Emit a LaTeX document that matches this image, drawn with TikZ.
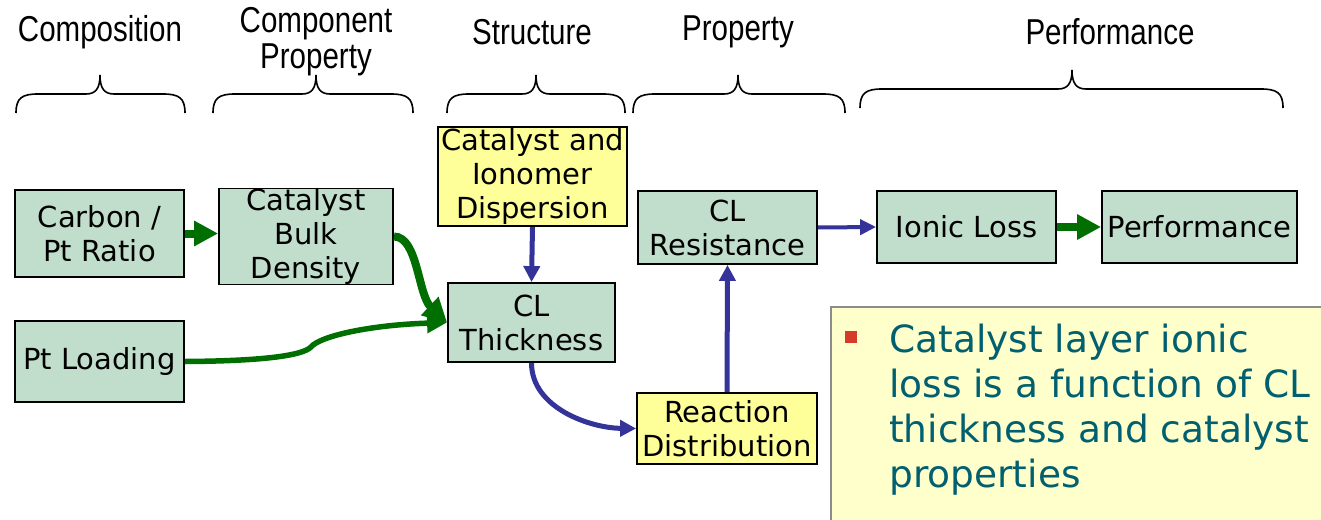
\documentclass[tikz,border=0pt]{standalone}
\usepackage{fontspec}
\setmainfont{DejaVu Sans}
\newfontfamily\hdr[FakeStretch=0.82]{Liberation Sans}
\usetikzlibrary{arrows.meta}
\definecolor{boxgreen}{RGB}{193,222,204}
\definecolor{boxyellow}{RGB}{255,255,153}
\definecolor{notefill}{RGB}{255,255,204}
\definecolor{darkgr}{RGB}{0,110,0}
\definecolor{arrblue}{RGB}{51,51,153}
\definecolor{teal}{RGB}{0,96,112}
\definecolor{bulletred}{RGB}{214,58,40}
\tikzset{
  gbox/.style={draw=black, line width=1.8pt, fill=boxgreen, inner sep=0pt, align=center,
    font=\fontsize{29}{34}\selectfont},
  ybox/.style={gbox, fill=boxyellow},
  hdrtext/.style={font=\hdr\fontsize{36}{38}\selectfont, align=center, inner sep=0pt},
  garrow/.style={draw=darkgr, line width=8pt, -{Triangle[length=24pt,width=24pt]}},
  garrowthin/.style={draw=darkgr, line width=5.5pt, -{Triangle[length=20pt,width=19pt]}},
  barrow/.style={draw=arrblue, line width=5pt, -{Triangle[length=16pt,width=16pt]}},
  bracepath/.style={draw=black, line width=1.6pt},
}
\newcommand{\mybrace}[6]{% xl xp xr ybottom yhoriz ypeak
  \draw[bracepath] (#1,#4) .. controls (#1,#5+4) and (#1+6,#5) .. (#1+22,#5)
    -- (#2-14,#5) .. controls (#2-4,#5) and (#2,#5-6) .. (#2,#6)
    .. controls (#2,#5-6) and (#2+4,#5) .. (#2+14,#5)
    -- (#3-22,#5) .. controls (#3-6,#5) and (#3,#5+4) .. (#3,#4);
}
\begin{document}
\begin{tikzpicture}[x=1pt,y=-1pt]
\useasboundingbox (0,0) rectangle (1321,519);

% headers
\node[hdrtext] (h1) at (100,32) {Composition};
\node[hdrtext] (h2) at (316,42) {Component\\[-2pt]Property};
\node[hdrtext] (h3) at (532,32) {Structure};
\node[hdrtext] (h4) at (738,32) {Property};
\node[hdrtext] (h5) at (1110,32) {Performance};

% braces
\mybrace{16}{100}{185}{113}{94}{75}
\mybrace{213}{316}{413}{113}{94}{75}
\mybrace{447}{536}{625}{113}{94}{75}
\mybrace{633}{738}{845}{113}{94}{75}
\mybrace{860}{1072}{1283}{108}{89}{70}

% boxes
\node[gbox, minimum width=169pt, minimum height=87pt] (cp) at (99.5,233.5) {Carbon /\\Pt Ratio};
\node[gbox, minimum width=174pt, minimum height=93pt] (cbd) at (306,236.5) {\raisebox{-3pt}{\parbox{174pt}{\centering Catalyst\\Bulk\\Density}}};
\node[gbox, minimum width=169pt, minimum height=81pt] (ptl) at (99.5,361.5) {Pt Loading};
\node[ybox, minimum width=189pt, minimum height=99pt] (cid) at (532.5,176.5) {\raisebox{-3pt}{\parbox{189pt}{\centering Catalyst and\\Ionomer\\Dispersion}}};
\node[gbox, minimum width=167pt, minimum height=79pt] (clt) at (531.5,322.5) {CL\\Thickness};
\node[gbox, minimum width=179pt, minimum height=73pt] (clr) at (727.5,227.5) {CL\\Resistance};
\node[ybox, minimum width=180pt, minimum height=71pt] (rd) at (727,428.5) {Reaction\\Distribution};
\node[gbox, minimum width=179pt, minimum height=72pt] (il) at (966.5,227) {Ionic Loss};
\node[gbox, minimum width=195pt, minimum height=72pt] (perf) at (1199.5,227) {Performance};

% note box
\draw[draw=gray!90, line width=1.6pt, fill=notefill] (831,307) rectangle (1330,530);
\fill[bulletred] (845,331) rectangle (857,343);
\node[anchor=north west, inner sep=0pt, text=teal, align=left,
  font=\fontsize{37.5}{45}\selectfont] (note) at (889,324)
  {Catalyst layer ionic\\loss is a function of CL\\thickness and catalyst\\properties};

% connectors
\draw[garrow] (cp.east) -- (cbd.west |- cp.east);
\draw[garrow] (cbd.east) .. controls +(24,0) and (418,295) .. (clt.west);
\draw[garrowthin] (ptl.east) .. controls (260,361) and (302,356) .. (311,347)
   .. controls (320,336) and (370,325) .. (clt.west);
\draw[barrow] (cid.south) -- (clt.north);
\draw[barrow] (clt.south) .. controls +(0,45) and (590,428) .. (rd.west);
\draw[barrow] (rd.north) -- (clr.south);
\draw[draw=arrblue, line width=4pt, -{Triangle[length=16pt,width=15pt]}] (clr.east) -- (il.west);
\draw[garrow] (il.east) -- (perf.west);
\end{tikzpicture}
\end{document}
